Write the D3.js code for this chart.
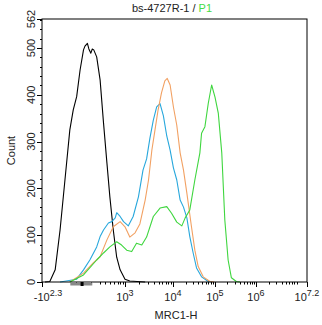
<!DOCTYPE html>
<html><head><meta charset="utf-8">
<script src="https://cdn.jsdelivr.net/npm/d3@7"></script>
<style>body{margin:0;background:#fff}svg{display:block;font-family:"Liberation Sans",Arial,sans-serif}</style>
</head><body><svg id="c" width="322" height="325"></svg>
<script>
// x in display decades (log10 MRC1-H, biexponential display), y = Count
const xTickValues = [1.3, 3, 4, 5, 6, 7.2];
const xTickBases = ["-10", "10", "10", "10", "10", "10"];
const xTickExps = ["2.3", "3", "4", "5", "6", "7.2"];
const yTickValues = [0, 100, 200, 300, 400, 500, 562];
const yMax = 562;
const seriesNames = ["isotype", "sample1", "sample2", "sample3"];
const seriesColors = ["#000000", "#27a7dc", "#f2a163", "#3fd63f"];
const blackCurve = [[1.36,0],[1.46,1],[1.57,26],[1.67,111],[1.77,218],[1.87,325],[1.94,368],[2.01,396],[2.08,453],[2.15,496],[2.18,504],[2.23,510],[2.26,498],[2.30,489],[2.33,498],[2.36,496],[2.42,481],[2.49,432],[2.56,340],[2.63,254],[2.69,182],[2.76,111],[2.83,53],[2.90,26],[3.0,6],[3.10,2],[3.25,1],[3.42,0]];
const blueCurve = [[1.67,0],[2.01,6],[2.15,26],[2.28,47],[2.42,75],[2.49,97],[2.56,111],[2.66,126],[2.73,129],[2.80,137],[2.83,148],[2.90,140],[2.97,129],[3.07,120],[3.17,140],[3.28,182],[3.375,239],[3.45,263],[3.52,308],[3.59,346],[3.66,374],[3.73,381],[3.80,355],[3.87,312],[3.94,282],[4.01,244],[4.09,218],[4.17,175],[4.25,160],[4.33,137],[4.40,97],[4.48,62],[4.56,30],[4.68,11],[4.84,1],[4.93,0]];
const orangeCurve = [[1.87,0],[2.15,19],[2.35,41],[2.49,54],[2.63,90],[2.76,118],[2.90,129],[3.00,118],[3.10,96],[3.21,105],[3.31,124],[3.42,175],[3.49,218],[3.56,282],[3.625,325],[3.69,368],[3.76,404],[3.83,430],[3.88,435],[3.94,421],[4.01,374],[4.09,335],[4.17,276],[4.25,239],[4.33,190],[4.44,118],[4.52,68],[4.60,33],[4.72,11],[4.88,1],[4.98,0]];
const greenCurve = [[1.87,0],[2.15,15],[2.42,47],[2.56,62],[2.69,75],[2.83,86],[2.93,79],[3.035,68],[3.14,65],[3.24,83],[3.35,79],[3.45,96],[3.59,140],[3.73,158],[3.87,161],[3.97,147],[4.09,128],[4.21,120],[4.29,137],[4.40,154],[4.52,218],[4.64,276],[4.68,318],[4.76,332],[4.84,382],[4.92,421],[5.00,395],[5.08,361],[5.165,276],[5.24,132],[5.32,47],[5.40,9],[5.52,1],[5.61,0]];
const series = [blackCurve, blueCurve, orangeCurve, greenCurve];

const L = 42, R = 307, T = 19, B = 282;
const svg = d3.select("#c");
const x = d3.scaleLinear().domain(xTickValues).range([42, 125, 173, 215, 256, 307]);
const y = d3.scaleLinear().domain([0, yMax]).range([B, T]);

// title
const title = svg.append("text").attr("x", 172).attr("y", 12).attr("text-anchor", "middle")
  .attr("font-size", 11).attr("fill", "#222");
title.append("tspan").text("bs-4727R-1 / ");
title.append("tspan").attr("fill", "#44dd44").text("P1");

// curves
const line = d3.line().x(d => x(d[0])).y(d => y(d[1])).curve(d3.curveLinear);
series.forEach((s, i) => {
  svg.append("path").datum(s).attr("d", line).attr("fill", "none")
    .attr("stroke", seriesColors[i]).attr("stroke-width", 1.1).attr("stroke-linejoin", "round");
});

// frame
svg.append("rect").attr("x", L).attr("y", T).attr("width", R - L).attr("height", B - T)
  .attr("fill", "none").attr("stroke", "#000").attr("stroke-width", 1);

// y axis ticks
const yMinor = d3.range(0, yMax + 1, 20);
svg.append("g").selectAll("line").data(yMinor).join("line")
  .attr("x1", L - 2).attr("x2", L).attr("y1", d => Math.round(y(d)) + 0.5).attr("y2", d => Math.round(y(d)) + 0.5)
  .attr("stroke", "#000");
svg.append("g").selectAll("line").data(yTickValues).join("line")
  .attr("x1", L - 5).attr("x2", L).attr("y1", d => Math.round(y(d)) + 0.5).attr("y2", d => Math.round(y(d)) + 0.5)
  .attr("stroke", "#000");
svg.append("g").selectAll("text").data(yTickValues).join("text")
  .attr("transform", d => `translate(35,${y(d)}) rotate(-90)`)
  .attr("text-anchor", "middle").attr("font-size", 11).attr("fill", "#222").text(d => d);
svg.append("text").attr("transform", `translate(15,${(T + B) / 2}) rotate(-90)`)
  .attr("text-anchor", "middle").attr("font-size", 11).attr("fill", "#222").text("Count");

// x axis minor ticks (log minors)
const xMinor = [];
for (let k = 3; k < 7; k++) for (let m = 2; m <= 9; m++) xMinor.push(k + Math.log10(m));
for (let m = 2; m <= 9; m++) { const v = 7 + Math.log10(m); if (v < 7.2) xMinor.push(v); }
[2.0, 2.3, 2.48, 2.6, 2.7, 2.78, 2.85, 2.9, 2.95].forEach(v => xMinor.push(v));
svg.append("g").selectAll("line").data(xMinor).join("line")
  .attr("x1", d => Math.round(x(d)) + 0.5).attr("x2", d => Math.round(x(d)) + 0.5)
  .attr("y1", B).attr("y2", B + 2.5).attr("stroke", "#000");
svg.append("g").selectAll("line").data(xTickValues).join("line")
  .attr("x1", d => Math.round(x(d)) + 0.5).attr("x2", d => Math.round(x(d)) + 0.5)
  .attr("y1", B).attr("y2", B + 5).attr("stroke", "#000");

// zero-region marker
svg.append("rect").attr("x", x(1.88)).attr("y", B + 0.5).attr("width", x(2.33) - x(1.88)).attr("height", 3)
  .attr("fill", "#888");
svg.append("rect").attr("x", x(2.09)).attr("y", B).attr("width", 3).attr("height", 4).attr("fill", "#000");

// x tick labels
const xl = svg.append("g").selectAll("text").data(xTickValues).join("text")
  .attr("x", (d, i) => x(d) + (i === 0 ? 6 : 0)).attr("y", 301)
  .attr("text-anchor", "middle").attr("font-size", 11).attr("fill", "#222");
xl.append("tspan").text((d, i) => xTickBases[i]);
xl.append("tspan").attr("dy", -5).attr("font-size", 9).text((d, i) => xTickExps[i]);

svg.append("text").attr("x", 176).attr("y", 319).attr("text-anchor", "middle")
  .attr("font-size", 11).attr("fill", "#222").text("MRC1-H");
</script></body></html>
